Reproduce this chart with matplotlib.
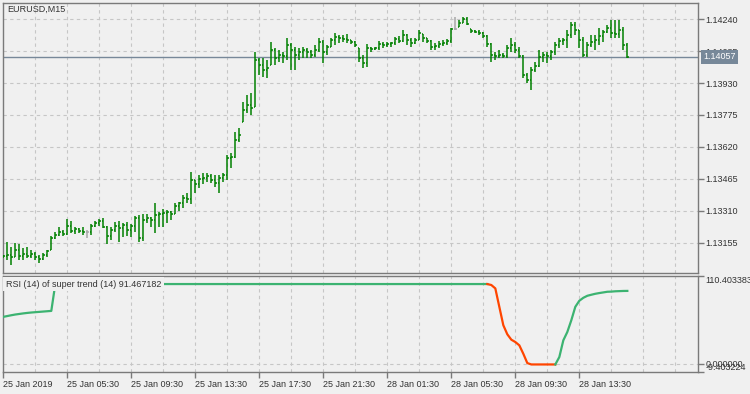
import numpy as np
import matplotlib
matplotlib.use("Agg")
import matplotlib.pyplot as plt
from matplotlib.transforms import blended_transform_factory

# EURUSD M15 bars (high / low / close)
highs = [1.13097, 1.13160, 1.13135, 1.13155, 1.13150, 1.13131, 1.13135, 1.13121, 1.13111, 1.13097,
         1.13106, 1.13121, 1.13189, 1.13208, 1.13232, 1.13218, 1.13271, 1.13262, 1.13232, 1.13228,
         1.13232, 1.13218, 1.13247, 1.13262, 1.13271, 1.13276, 1.13237, 1.13232, 1.13257, 1.13262,
         1.13252, 1.13257, 1.13247, 1.13286, 1.13291, 1.13295, 1.13295, 1.13281, 1.13349, 1.13305,
         1.13320, 1.13315, 1.13310, 1.13349, 1.13353, 1.13387, 1.13397, 1.13499, 1.13460, 1.13484,
         1.13494, 1.13494, 1.13489, 1.13484, 1.13484, 1.13494, 1.13581, 1.13591, 1.13693, 1.13712,
         1.13838, 1.13872, 1.13882, 1.14080, 1.14051, 1.14051, 1.14041, 1.14129, 1.14099, 1.14090,
         1.14080, 1.14148, 1.14124, 1.14104, 1.14099, 1.14104, 1.14099, 1.14090, 1.14114, 1.14148,
         1.14138, 1.14114, 1.14148, 1.14172, 1.14162, 1.14162, 1.14167, 1.14138, 1.14133, 1.14099,
         1.14066, 1.14119, 1.14104, 1.14104, 1.14133, 1.14129, 1.14129, 1.14129, 1.14153, 1.14158,
         1.14187, 1.14167, 1.14148, 1.14148, 1.14187, 1.14167, 1.14148, 1.14138, 1.14124, 1.14133,
         1.14138, 1.14143, 1.14196, 1.14250, 1.14235, 1.14250, 1.14250, 1.14192, 1.14187, 1.14187,
         1.14177, 1.14162, 1.14124, 1.14080, 1.14090, 1.14075, 1.14114, 1.14148, 1.14129, 1.14104,
         1.14066, 1.13978, 1.14007, 1.14032, 1.14090, 1.14080, 1.14080, 1.14090, 1.14129, 1.14148,
         1.14148, 1.14187, 1.14225, 1.14225, 1.14187, 1.14153, 1.14129, 1.14162, 1.14162, 1.14196,
         1.14187, 1.14211, 1.14235, 1.14235, 1.14235, 1.14201, 1.14124]
lows = [1.13082, 1.13073, 1.13048, 1.13087, 1.13073, 1.13073, 1.13082, 1.13082, 1.13073, 1.13058,
        1.13073, 1.13087, 1.13121, 1.13174, 1.13189, 1.13189, 1.13194, 1.13203, 1.13198, 1.13203,
        1.13194, 1.13179, 1.13194, 1.13232, 1.13237, 1.13228, 1.13150, 1.13169, 1.13208, 1.13160,
        1.13184, 1.13189, 1.13184, 1.13208, 1.13160, 1.13164, 1.13252, 1.13232, 1.13203, 1.13232,
        1.13232, 1.13252, 1.13266, 1.13295, 1.13310, 1.13324, 1.13349, 1.13344, 1.13397, 1.13421,
        1.13441, 1.13450, 1.13446, 1.13426, 1.13397, 1.13450, 1.13460, 1.13518, 1.13567, 1.13644,
        1.13741, 1.13785, 1.13775, 1.13814, 1.13969, 1.13959, 1.13954, 1.14017, 1.14017, 1.14032,
        1.14027, 1.14041, 1.13993, 1.13993, 1.14041, 1.14051, 1.14051, 1.14051, 1.14056, 1.14080,
        1.14027, 1.14066, 1.14104, 1.14114, 1.14124, 1.14129, 1.14124, 1.14119, 1.14104, 1.14032,
        1.14003, 1.14007, 1.14080, 1.14090, 1.14090, 1.14099, 1.14104, 1.14104, 1.14114, 1.14124,
        1.14129, 1.14114, 1.14104, 1.14119, 1.14138, 1.14129, 1.14124, 1.14090, 1.14090, 1.14099,
        1.14109, 1.14114, 1.14124, 1.14187, 1.14201, 1.14221, 1.14211, 1.14172, 1.14172, 1.14162,
        1.14148, 1.14104, 1.14032, 1.14041, 1.14051, 1.14051, 1.14051, 1.14080, 1.14075, 1.14051,
        1.13954, 1.13930, 1.13896, 1.13983, 1.14007, 1.14032, 1.14027, 1.14041, 1.14066, 1.14099,
        1.14114, 1.14099, 1.14148, 1.14162, 1.14099, 1.14056, 1.14056, 1.14104, 1.14090, 1.14114,
        1.14129, 1.14172, 1.14148, 1.14148, 1.14148, 1.14090, 1.14051]
closes = [1.13092, 1.13097, 1.13087, 1.13121, 1.13092, 1.13102, 1.13092, 1.13102, 1.13087, 1.13077,
          1.13097, 1.13116, 1.13179, 1.13194, 1.13208, 1.13198, 1.13237, 1.13213, 1.13223, 1.13213,
          1.13208, 1.13208, 1.13237, 1.13252, 1.13262, 1.13232, 1.13189, 1.13218, 1.13237, 1.13228,
          1.13242, 1.13218, 1.13237, 1.13276, 1.13179, 1.13266, 1.13276, 1.13266, 1.13291, 1.13295,
          1.13300, 1.13305, 1.13295, 1.13334, 1.13349, 1.13373, 1.13368, 1.13460, 1.13441, 1.13465,
          1.13470, 1.13479, 1.13460, 1.13446, 1.13470, 1.13484, 1.13567, 1.13571, 1.13654, 1.13678,
          1.13799, 1.13823, 1.13809, 1.14041, 1.14017, 1.13993, 1.14003, 1.14090, 1.14051, 1.14066,
          1.14061, 1.14114, 1.14090, 1.14066, 1.14080, 1.14090, 1.14080, 1.14066, 1.14090, 1.14129,
          1.14080, 1.14104, 1.14138, 1.14153, 1.14148, 1.14143, 1.14138, 1.14129, 1.14114, 1.14051,
          1.14027, 1.14099, 1.14095, 1.14099, 1.14119, 1.14114, 1.14119, 1.14124, 1.14143, 1.14133,
          1.14162, 1.14138, 1.14124, 1.14138, 1.14172, 1.14148, 1.14133, 1.14104, 1.14109, 1.14119,
          1.14124, 1.14133, 1.14192, 1.14192, 1.14221, 1.14240, 1.14216, 1.14182, 1.14177, 1.14172,
          1.14158, 1.14119, 1.14066, 1.14061, 1.14066, 1.14061, 1.14099, 1.14114, 1.14090, 1.14061,
          1.13969, 1.13944, 1.13993, 1.14012, 1.14056, 1.14066, 1.14061, 1.14080, 1.14114, 1.14133,
          1.14138, 1.14162, 1.14211, 1.14187, 1.14138, 1.14066, 1.14114, 1.14129, 1.14138, 1.14158,
          1.14177, 1.14196, 1.14172, 1.14167, 1.14187, 1.14114, 1.14057]
first_open = 1.13087

# RSI (14) of super trend (14)
rsi = ([59.2, 60.2, 61.2, 62.1, 62.8, 63.5, 64.1, 64.6, 65.0, 65.4, 65.8, 66.2, 66.6]
       + [100.0] * 109
       + [98.8, 94.6, 71.7, 48.8, 37.5, 30.8, 27.9, 23.8, 13.3, 1.7]
       + [0.0] * 7
       + [9.2, 30.0, 40.4, 55.0, 71.7, 79.2, 82.9, 85.4, 86.7, 87.9, 88.8, 89.6,
          90.4, 90.6, 91.0, 91.2, 91.4, 91.467182])
down_from, down_to = 121, 138

price_ticks = [1.13155, 1.13310, 1.13465, 1.13620, 1.13775, 1.13930, 1.14085, 1.14240]
last_price = 1.14057
time_pos = [0, 16, 32, 48, 64, 80, 96, 112, 128, 144]
time_labels = ["25 Jan 2019", "25 Jan 05:30", "25 Jan 09:30", "25 Jan 13:30", "25 Jan 17:30",
               "25 Jan 21:30", "28 Jan 01:30", "28 Jan 05:30", "28 Jan 09:30", "28 Jan 13:30"]
rsi_ticks = [-9.403224, 0.0, 110.403383]

bg = "#f0f0f0"
edge = "#7a7a7a"
txt = "#333333"
grid_c = "#c6c6c6"
bar_c = "#008000"
plt.rcParams["font.family"] = ["Liberation Sans", "DejaVu Sans"]
plt.rcParams["font.size"] = 6.5

fig = plt.figure(figsize=(7.5, 3.94), dpi=100, facecolor=bg)
ax = fig.add_axes([0.0036, 0.3079, 0.9267, 0.6852], facecolor=bg)
ax2 = fig.add_axes([0.0036, 0.0558, 0.9267, 0.2445], facecolor=bg)

n = len(closes)
idx = np.arange(n)
c = np.array(closes)
opens = np.clip(np.concatenate([[first_open], c[:-1]]), lows, highs)
colors = [("#a8a8a8" if np.isclose(o, cl) else bar_c) for o, cl in zip(opens, c)]

xmin = -0.15
xmax = xmin + 695 / 4

for a in (ax, ax2):
    a.set_xlim(xmin, xmax)
    for k in range(8, 174, 8):
        a.axvline(k, color=grid_c, lw=0.8, ls=(0, (3, 3)), zorder=0)
    for s in a.spines.values():
        s.set_color(edge)
        s.set_linewidth(1)

# price panel
for p in price_ticks:
    ax.axhline(p, color=grid_c, lw=0.8, ls=(0, (3, 3)), zorder=0)
ax.vlines(idx, lows, highs, colors=colors, lw=1.1, zorder=3)
ax.hlines(opens, idx - 0.4, idx, colors=colors, lw=1.1, zorder=3)
ax.hlines(c, idx, idx + 0.4, colors=colors, lw=1.1, zorder=3)
ax.axhline(last_price, color="#778899", lw=1, zorder=2)
ax.set_ylim(1.13011, 1.14319)
ax.yaxis.tick_right()
ax.set_yticks(price_ticks, [f"{p:.5f}" for p in price_ticks])
ax.tick_params(axis="y", length=4, width=1, color=edge, labelcolor=txt, pad=1.5)
ax.set_xticks([])
ax.text(0.0062, 0.975, "EURUSD,M15", transform=ax.transAxes, ha="left", va="center", color=txt)
blend = blended_transform_factory(ax.transAxes, ax.transData)
ax.text(1.0076, last_price, f"{last_price:.5f}", transform=blend, ha="left", va="center",
        color="white", zorder=10, clip_on=False,
        bbox=dict(boxstyle="square,pad=0.25", fc="#778899", ec="none"))

# indicator panel
r = np.array(rsi)
green = "#3cb371"
orange = "#ff4500"
ax2.axhline(0, color=grid_c, lw=0.8, ls=(0, (3, 3)), zorder=0)
ax2.plot(idx[:down_from + 1], r[:down_from + 1], color=green, lw=1.6, zorder=3)
ax2.plot(idx[down_from:down_to + 1], r[down_from:down_to + 1], color=orange, lw=1.6, zorder=3)
ax2.plot(idx[down_to:], r[down_to:], color=green, lw=1.6, zorder=3)
ax2.set_ylim(rsi_ticks[0], rsi_ticks[-1])
ax2.yaxis.tick_right()
ax2.set_yticks(rsi_ticks, [f"{v:.6f}" for v in rsi_ticks])
ax2.tick_params(axis="y", length=4, width=1, color=edge, labelcolor=txt, pad=1.5)
for lab, va in zip(ax2.get_yticklabels(), ["bottom", "center", "top"]):
    lab.set_va(va)
ax2.set_xticks(time_pos, time_labels, ha="left")
ax2.tick_params(axis="x", length=4, width=1, color=edge, labelcolor=txt, pad=2)
blend2 = blended_transform_factory(ax2.transAxes, ax2.transData)
ax2.text(0.0043, 100, "RSI (14) of super trend (14) 91.467182", transform=blend2,
         ha="left", va="center", color=txt, zorder=10,
         bbox=dict(boxstyle="square,pad=0.3", fc=bg, ec="none"))

fig.savefig("out.png", dpi=100, facecolor=bg)
